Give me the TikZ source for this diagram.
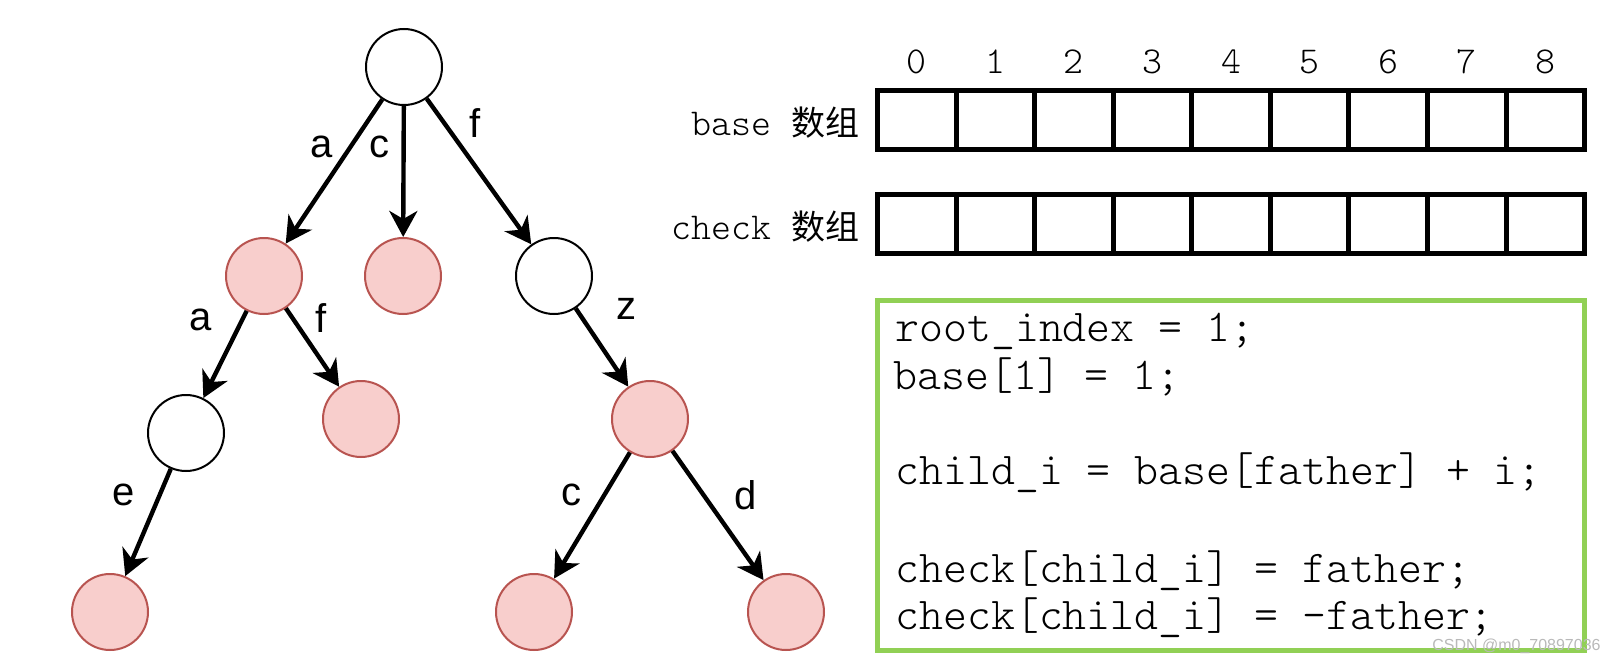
\documentclass[tikz,border=0pt]{standalone}
\usepackage{fontspec}
\setmainfont{Liberation Sans}
\newfontfamily\cjk{Noto Sans CJK SC}
\usepackage{xcolor}
\usetikzlibrary{arrows.meta}

\definecolor{leaffill}{HTML}{F8CECC}
\definecolor{leafdraw}{HTML}{B85450}
\definecolor{boxgreen}{RGB}{145,208,85}

\begin{document}
\begin{tikzpicture}[x=0.5pt, y=-0.5pt, every node/.style={inner sep=0pt},
    emptynode/.style={draw=black, line width=1pt, fill=white, circle, minimum size=38pt},
    endnode/.style={draw=leafdraw, line width=1pt, fill=leaffill, circle, minimum size=38pt},
    arr/.style={-{Stealth[length=13pt, width=14pt, inset=4pt]}, line width=2.2pt},
    elbl/.style={font=\fontsize{20}{24}\selectfont},
    cellbox/.style={draw, line width=2.5pt, minimum width=39.3pt, minimum height=29.5pt},
    idx/.style={font=\ttfamily\fontseries{l}\fontsize{19}{22}\selectfont},
    arrname/.style={anchor=east, font=\ttfamily\fontseries{l}\fontsize{19}{22}\selectfont},
    codeline/.style={anchor=base west, font=\ttfamily\fontseries{l}\fontsize{22.8}{27}\selectfont}]
    \useasboundingbox (0,0) rectangle (1617,664);

    % Trie nodes
    \node[emptynode] (root) at (404,67) {};
    \node[endnode] (na) at (264,276) {};
    \node[endnode] (nc) at (403,276) {};
    \node[emptynode] (nf) at (554,276) {};
    \node[emptynode] (naa) at (186,433) {};
    \node[endnode] (naf) at (361,419) {};
    \node[endnode] (nfz) at (650,419) {};
    \node[endnode] (naae) at (110,612) {};
    \node[endnode] (nfzc) at (534,612) {};
    \node[endnode] (nfzd) at (786,612) {};

    % Edges
    \draw[arr] (root) -- (na);
    \draw[arr] (root) -- (nc);
    \draw[arr] (root) -- (nf);
    \draw[arr] (na) -- (naa);
    \draw[arr] (na) -- (naf);
    \draw[arr] (nf) -- (nfz);
    \draw[arr] (naa) -- (naae);
    \draw[arr] (nfz) -- (nfzc);
    \draw[arr] (nfz) -- (nfzd);

    % Edge letters
    \node[elbl] (la) at (322,147) {a};
    \node[elbl] (lc) at (379,147) {c};
    \node[elbl] (lf) at (475,123) {f};
    \node[elbl] (laa) at (201,320) {a};
    \node[elbl] (laf) at (321,318) {f};
    \node[elbl] (lfz) at (626,309) {z};
    \node[elbl] (laae) at (124,495) {e};
    \node[elbl] (lfzc) at (571,495) {c};
    \node[elbl] (lfzd) at (746,495) {d};

    % Indices
    \node[idx] (i0) at (916.8,62) {0};
    \node[idx] (i1) at (995.3,62) {1};
    \node[idx] (i2) at (1073.9,62) {2};
    \node[idx] (i3) at (1152.5,62) {3};
    \node[idx] (i4) at (1231.0,62) {4};
    \node[idx] (i5) at (1309.6,62) {5};
    \node[idx] (i6) at (1388.2,62) {6};
    \node[idx] (i7) at (1466.7,62) {7};
    \node[idx] (i8) at (1545.3,62) {8};

    % base array
    \node[arrname] (basename) at (860,123) {base\ {\cjk\fontsize{17}{20}\selectfont 数组}};
    \node[cellbox] (b0) at (916.8,120) {};
    \node[cellbox] (b1) at (995.3,120) {};
    \node[cellbox] (b2) at (1073.9,120) {};
    \node[cellbox] (b3) at (1152.5,120) {};
    \node[cellbox] (b4) at (1231.0,120) {};
    \node[cellbox] (b5) at (1309.6,120) {};
    \node[cellbox] (b6) at (1388.2,120) {};
    \node[cellbox] (b7) at (1466.7,120) {};
    \node[cellbox] (b8) at (1545.3,120) {};

    % check array
    \node[arrname] (checkname) at (860,227) {check\ {\cjk\fontsize{17}{20}\selectfont 数组}};
    \node[cellbox] (k0) at (916.8,224) {};
    \node[cellbox] (k1) at (995.3,224) {};
    \node[cellbox] (k2) at (1073.9,224) {};
    \node[cellbox] (k3) at (1152.5,224) {};
    \node[cellbox] (k4) at (1231.0,224) {};
    \node[cellbox] (k5) at (1309.6,224) {};
    \node[cellbox] (k6) at (1388.2,224) {};
    \node[cellbox] (k7) at (1466.7,224) {};
    \node[cellbox] (k8) at (1545.3,224) {};

    % Code box
    \node[draw=boxgreen, line width=2.5pt, minimum width=353.5pt, minimum height=175pt] (codebox) at (1231,475) {};
    \node[codeline] (code1) at (895,341) {root\_index = 1;};
    \node[codeline] (code2) at (893,389) {base[1] = 1;};
    \node[codeline] (code3) at (895,484) {child\_i = base[father] + i;};
    \node[codeline] (code4) at (895,582) {check[child\_i] = father;};
    \node[codeline] (code5) at (895,629) {check[child\_i] = -father;};

    % Watermark
    \node[anchor=base east, text=gray!55, font=\fontsize{8}{10}\selectfont] (wm) at (1601,650) {CSDN @m0\_70897036};
\end{tikzpicture}
\end{document}
